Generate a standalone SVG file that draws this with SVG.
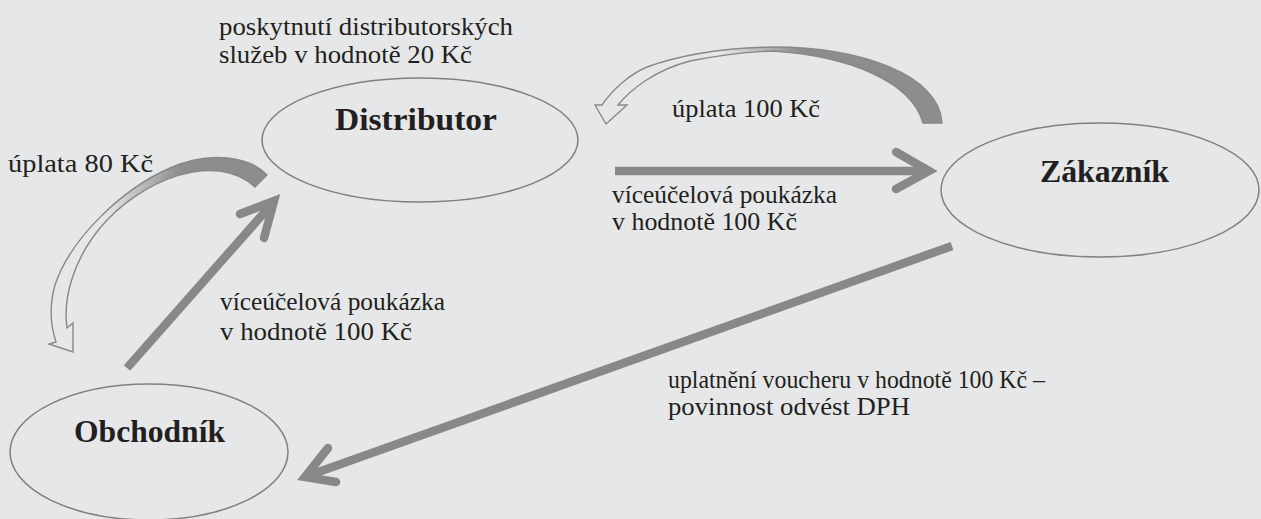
<svg xmlns="http://www.w3.org/2000/svg" width="1261" height="519" viewBox="0 0 1261 519">
<style>
.bg{fill:#e6e7e8}
.node{fill:none;stroke:#808082;stroke-width:1.5}
.lbl{font-family:'Liberation Serif','DejaVu Serif','Times New Roman',serif;font-size:25px;fill:#231f20}
.title{font-family:'Liberation Serif','DejaVu Serif','Times New Roman',serif;font-size:31px;font-weight:bold;fill:#231f20}
.shaft{fill:none;stroke:#87888a;stroke-width:8.5;stroke-linecap:butt}
.head{fill:none;stroke:#87888a;stroke-width:8.5;stroke-linecap:round;stroke-linejoin:miter;stroke-miterlimit:10}
.curve{stroke:#87888a;stroke-width:1.4;stroke-linejoin:miter}
</style>
<defs>
<linearGradient id="gTop" gradientUnits="userSpaceOnUse" x1="720" y1="0" x2="800" y2="0">
<stop offset="0" stop-color="#8c8d8f" stop-opacity="0"/>
<stop offset="1" stop-color="#8c8d8f" stop-opacity="1"/>
</linearGradient>
<linearGradient id="gLeft" gradientUnits="userSpaceOnUse" x1="105" y1="0" x2="180" y2="0">
<stop offset="0" stop-color="#8c8d8f" stop-opacity="0"/>
<stop offset="1" stop-color="#8c8d8f" stop-opacity="1"/>
</linearGradient>
</defs>
<rect class="bg" x="0" y="0" width="1261" height="519"/>

<g id="connectors">
<g id="d-to-z">
<line class="shaft" x1="615" y1="171" x2="925" y2="171"/>
<polyline class="head" points="896,152 929,171 896,189"/>
</g>
<g id="o-to-d">
<line class="shaft" x1="127" y1="368" x2="271" y2="205"/>
<polyline class="head" points="240,214 274,201 264,238"/>
</g>
<g id="z-to-o">
<line class="shaft" x1="952" y1="246" x2="310" y2="475"/>
<polyline class="head" points="328,448 305,477 336,482"/>
</g>
<path id="curve-top" class="curve" fill="url(#gTop)" d="M942,123 C940,75 860,47 773,47 C720,48 680,55 647,67 C630,74 612,90 602,105 L595,105 L606,124 L627,105 L618,105 C630,90 655,70 690,61 C720,55 745,52 773,51 C850,56 912,82 923,123 Z"/>
<path id="curve-left" class="curve" fill="url(#gLeft)" d="M267,175 C250,157 210,150 170,168 C120,190 70,240 55,285 C48,310 52,330 56,342 L49,344 L73,352 L73,323 L67,328 C63,300 72,262 100,228 C140,180 215,150 255,187 Z"/>
</g>

<g id="node-distributor">
<ellipse class="node" cx="420" cy="140" rx="158" ry="62"/>
<text class="title" x="335" y="130" textLength="162" lengthAdjust="spacingAndGlyphs">Distributor</text>
</g>
<g id="node-zakaznik">
<ellipse class="node" cx="1100" cy="190" rx="159" ry="67"/>
<text class="title" x="1040" y="182" textLength="129" lengthAdjust="spacingAndGlyphs">Zákazník</text>
</g>
<g id="node-obchodnik">
<ellipse class="node" cx="149" cy="452" rx="139" ry="68"/>
<text class="title" x="74" y="442" textLength="151" lengthAdjust="spacingAndGlyphs">Obchodník</text>
</g>

<g id="labels">
<text class="lbl" x="219" y="35" textLength="294" lengthAdjust="spacingAndGlyphs">poskytnutí distributorských</text>
<text class="lbl" x="219" y="63" textLength="253" lengthAdjust="spacingAndGlyphs">služeb v hodnotě 20 Kč</text>
<text class="lbl" x="672" y="117" textLength="148" lengthAdjust="spacingAndGlyphs">úplata 100 Kč</text>
<text class="lbl" x="8" y="172" textLength="145" lengthAdjust="spacingAndGlyphs">úplata 80 Kč</text>
<text class="lbl" x="612" y="203" textLength="225" lengthAdjust="spacingAndGlyphs">víceúčelová poukázka</text>
<text class="lbl" x="612" y="230" textLength="185" lengthAdjust="spacingAndGlyphs">v hodnotě 100 Kč</text>
<text class="lbl" x="220" y="310" textLength="225" lengthAdjust="spacingAndGlyphs">víceúčelová poukázka</text>
<text class="lbl" x="220" y="340" textLength="192" lengthAdjust="spacingAndGlyphs">v hodnotě 100 Kč</text>
<text class="lbl" x="668" y="388" textLength="377" lengthAdjust="spacingAndGlyphs">uplatnění voucheru v hodnotě 100 Kč –</text>
<text class="lbl" x="668" y="415" textLength="242" lengthAdjust="spacingAndGlyphs">povinnost odvést DPH</text>
</g>
</svg>
